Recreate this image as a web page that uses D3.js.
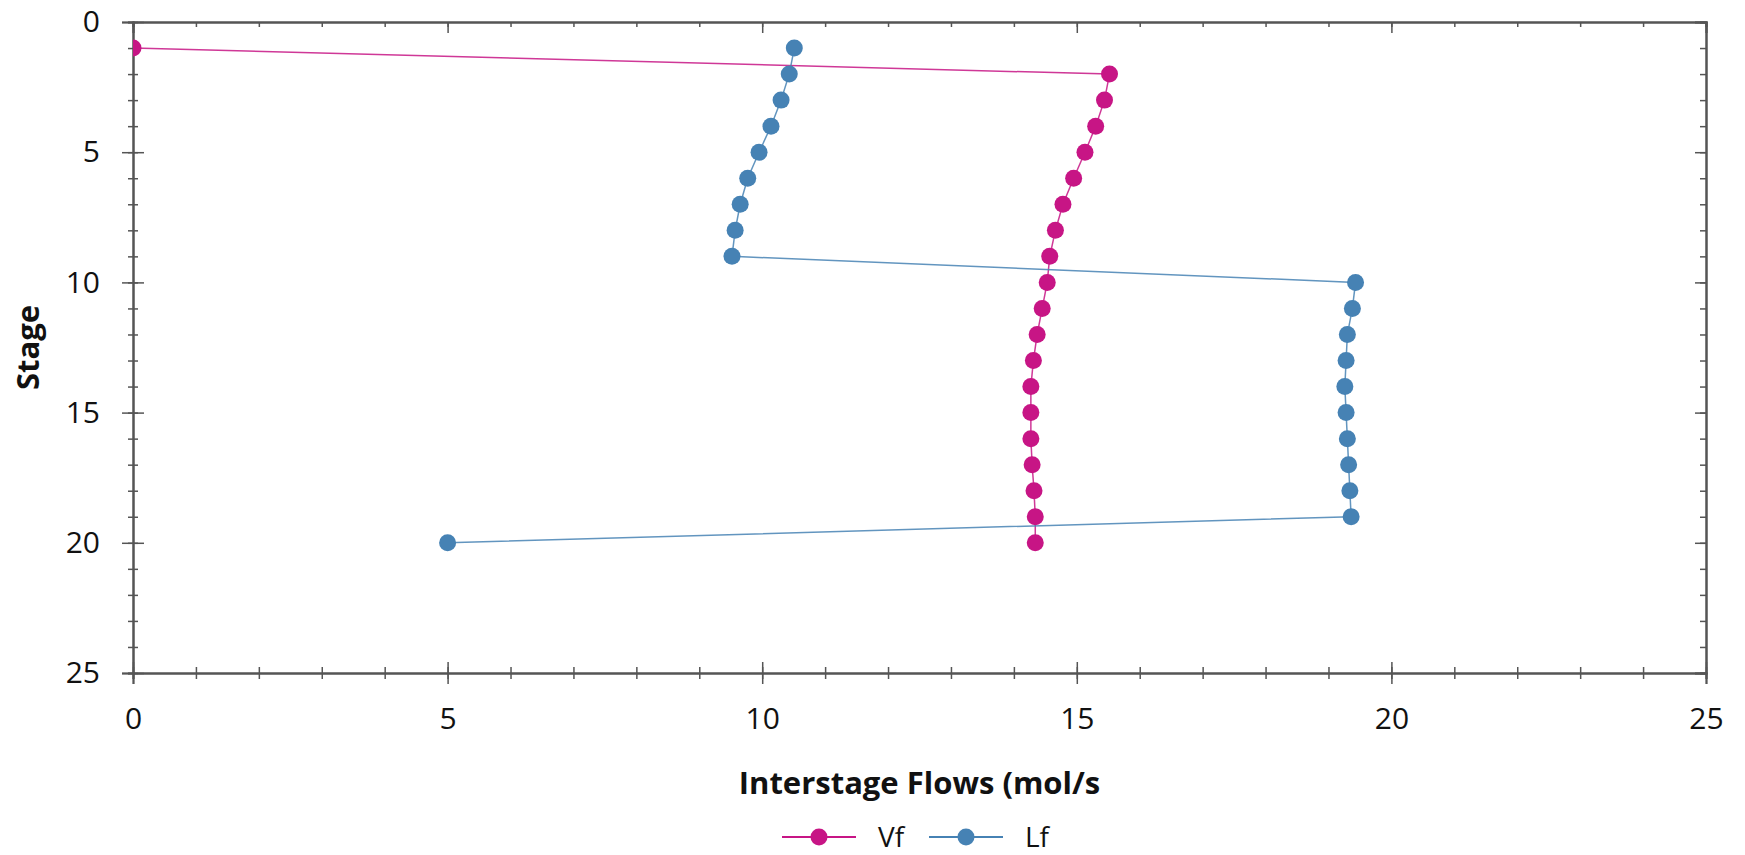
<!DOCTYPE html>
<html>
<head>
<title>Interstage Flows</title>
<style>
body { margin: 0; background: #fff; }
text { font-family: "Open Sans", "Noto Sans", sans-serif; fill: #111; }
</style>
<script type="text/javascript" src="https://d3js.org/d3.v7.min.js"></script>
</head>
<body>
<svg id="chart" width="1745" height="855"></svg>
<script type="text/javascript">
// stages 1..20
const stages = [1, 2, 3, 4, 5, 6, 7, 8, 9, 10, 11, 12, 13, 14, 15, 16, 17, 18, 19, 20];
const vf = [0, 15.52, 15.44, 15.30, 15.13, 14.95, 14.78, 14.66, 14.57, 14.53, 14.45, 14.37, 14.31, 14.27, 14.27, 14.27, 14.29, 14.32, 14.34, 14.34];
const lf = [10.51, 10.43, 10.30, 10.14, 9.95, 9.77, 9.65, 9.57, 9.52, 19.43, 19.38, 19.30, 19.28, 19.26, 19.28, 19.30, 19.32, 19.34, 19.36, 5.0];
const xTicks = [0, 5, 10, 15, 20, 25];
const yTicks = [0, 5, 10, 15, 20, 25];
const seriesNames = ["Vf", "Lf"];
const seriesColors = ["#C71585", "#4682B4"];

const svg = d3.select("#chart");
const LEFT = 133, RIGHT = 1706, TOP = 22, BOTTOM = 673;
const AXIS_COLOR = "#555";

const xScale = d3.scaleLinear().domain([0, 25]).range([LEFT, RIGHT]);
const yScale = d3.scaleLinear().domain([0, 25]).range([TOP, BOTTOM]);
const minor = d3.range(0, 26, 1);

function styleAxis(g) {
    g.selectAll("path.domain").attr("stroke", AXIS_COLOR).attr("stroke-width", 2);
    g.selectAll(".tick line").attr("stroke", AXIS_COLOR).attr("stroke-width", 1.5);
    g.selectAll(".tick text").style("font-size", "30px").attr("fill", "#111");
}

// left axis: ticks cross the line
const leftMinor = svg.append("g").attr("transform", `translate(${LEFT},0)`)
    .call(d3.axisLeft(yScale).tickValues(minor).tickFormat("").tickSizeOuter(0).tickSize(5));
leftMinor.selectAll(".tick line").attr("x1", 5);
styleAxis(leftMinor);
const leftMajor = svg.append("g").attr("transform", `translate(${LEFT},0)`)
    .call(d3.axisLeft(yScale).tickValues(yTicks).tickSizeOuter(0).tickSize(11).tickPadding(22));
leftMajor.selectAll(".tick line").attr("x1", 11);
styleAxis(leftMajor);

// bottom axis
const botMinor = svg.append("g").attr("transform", `translate(0,${BOTTOM})`)
    .call(d3.axisBottom(xScale).tickValues(minor).tickFormat("").tickSizeOuter(0).tickSize(6));
botMinor.selectAll(".tick line").attr("y1", -6);
styleAxis(botMinor);
const botMajor = svg.append("g").attr("transform", `translate(0,${BOTTOM})`)
    .call(d3.axisBottom(xScale).tickValues(xTicks).tickSizeOuter(0).tickSize(11).tickPadding(24));
botMajor.selectAll(".tick line").attr("y1", -11);
styleAxis(botMajor);

// top + right frame, ticks pointing in
const topMinor = svg.append("g").attr("transform", `translate(0,${TOP})`)
    .call(d3.axisTop(xScale).tickValues(minor).tickFormat("").tickSizeOuter(0).tickSize(-5));
styleAxis(topMinor);
const topMajor = svg.append("g").attr("transform", `translate(0,${TOP})`)
    .call(d3.axisTop(xScale).tickValues(xTicks).tickFormat("").tickSizeOuter(0).tickSize(-11));
styleAxis(topMajor);
const rightMinor = svg.append("g").attr("transform", `translate(${RIGHT},0)`)
    .call(d3.axisRight(yScale).tickValues(minor).tickFormat("").tickSizeOuter(0).tickSize(-6));
styleAxis(rightMinor);
const rightMajor = svg.append("g").attr("transform", `translate(${RIGHT},0)`)
    .call(d3.axisRight(yScale).tickValues(yTicks).tickFormat("").tickSizeOuter(0).tickSize(-11));
styleAxis(rightMajor);

// axis titles
svg.append("text")
   .attr("x", (LEFT + RIGHT) / 2).attr("y", 794)
   .attr("text-anchor", "middle")
   .style("font-size", "31px").style("font-weight", "bold")
   .text("Interstage Flows (mol/s");
svg.append("text")
   .attr("transform", `translate(39,${(TOP + BOTTOM) / 2}) rotate(-90)`)
   .attr("text-anchor", "middle")
   .style("font-size", "31px").style("font-weight", "bold")
   .text("Stage");

// clip
svg.append("clipPath").attr("id", "plotClip")
   .append("rect").attr("x", LEFT).attr("y", TOP).attr("width", RIGHT - LEFT).attr("height", BOTTOM - TOP);

const plot = svg.append("g").attr("clip-path", "url(#plotClip)");
const allSeries = [vf, lf];

allSeries.forEach((vals, i) => {
    const pts = stages.map((s, j) => ({ stage: s, v: vals[j] }));
    const line = d3.line().x(d => xScale(d.v)).y(d => yScale(d.stage));
    plot.append("path").datum(pts)
        .attr("d", line)
        .attr("fill", "none")
        .attr("stroke", seriesColors[i])
        .attr("stroke-width", 1.5)
        .attr("opacity", 0.85);
    plot.selectAll(null).data(pts).enter().append("circle")
        .attr("cx", d => xScale(d.v))
        .attr("cy", d => yScale(d.stage))
        .attr("r", 8.5)
        .attr("fill", seriesColors[i]);
});

// legend
const legendX = [782, 929];
seriesNames.forEach((name, i) => {
    const g = svg.append("g").attr("transform", `translate(${legendX[i]},837)`);
    g.append("line").attr("x1", 0).attr("x2", 74).attr("y1", 0).attr("y2", 0)
     .attr("stroke", seriesColors[i]).attr("stroke-width", 2);
    g.append("circle").attr("cx", 37).attr("cy", 0).attr("r", 8.5).attr("fill", seriesColors[i]);
    g.append("text").attr("x", 96).attr("y", 0).attr("dy", "0.35em")
     .style("font-size", "28px").text(name);
});
</script>
</body>
</html>
